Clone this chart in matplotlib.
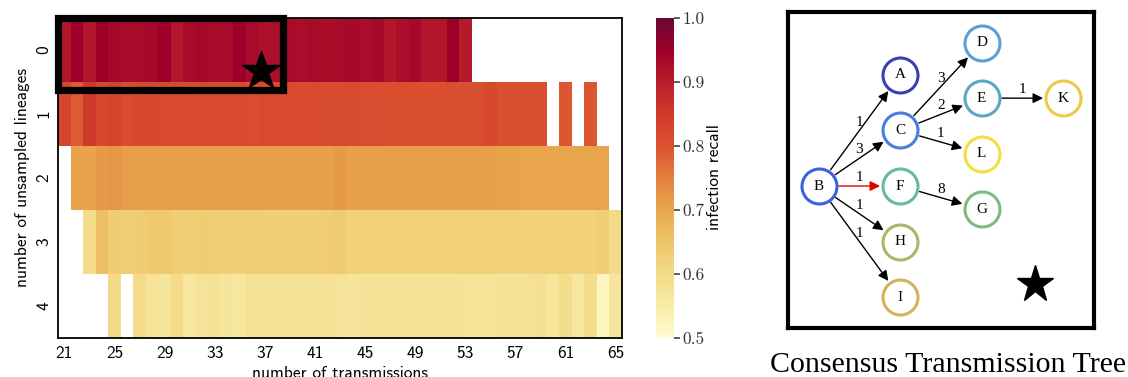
import numpy as np
import matplotlib
matplotlib.use("Agg")
import matplotlib.pyplot as plt
from matplotlib.colors import LinearSegmentedColormap

nan = np.nan

# heatmap: infection recall per (unsampled lineages, transmissions)
transmissions = list(range(21, 66))
unsampled = [0, 1, 2, 3, 4]

recall_u0 = [0.91, 0.95, 0.91, 0.95, 0.935, 0.93, 0.93, 0.932, 0.95, 0.91,
             0.93, 0.935, 0.93, 0.93, 0.95, 0.93, 0.92, 0.925, 0.93, 0.927,
             0.93, 0.927, 0.93, 0.935, 0.927, 0.935, 0.91, 0.925, 0.935, 0.912,
             0.912, 0.95, 0.905] + [nan] * 12
recall_u1 = [0.825, 0.79, 0.85, 0.82, 0.83, 0.81, 0.82, 0.82, 0.815, 0.815,
             0.812, 0.815, 0.815, 0.812, 0.815, 0.81, 0.815, 0.812, 0.815, 0.812,
             0.815, 0.812, 0.812, 0.812, 0.81, 0.81, 0.808, 0.808, 0.806, 0.806,
             0.806, 0.804, 0.804, 0.804, 0.82, 0.803, 0.803, 0.803, 0.803, nan,
             0.795, nan, 0.795, nan, nan]
recall_u2 = [nan, 0.705, 0.705, 0.715, 0.722, 0.712, 0.71, 0.71, 0.71, 0.71,
             0.71, 0.71, 0.71, 0.71, 0.71, 0.71, 0.71, 0.71, 0.71, 0.71,
             0.709, 0.708, 0.718, 0.71, 0.71, 0.71, 0.71, 0.71, 0.71, 0.71,
             0.71, 0.71, 0.71, 0.71, 0.71, 0.704, 0.704, 0.703, 0.703, 0.703,
             0.703, 0.703, 0.703, 0.703, nan]
recall_u3 = [nan, nan, 0.595, 0.66, 0.63, 0.628, 0.63, 0.64, 0.64, 0.628,
             0.628, 0.632, 0.628, 0.628, 0.625, 0.628, 0.626, 0.626, 0.626, 0.626,
             0.626, 0.63, 0.635, 0.622, 0.622, 0.622, 0.622, 0.622, 0.622, 0.622,
             0.622, 0.622, 0.622, 0.622, 0.622, 0.622, 0.622, 0.622, 0.622, 0.622,
             0.622, 0.622, 0.622, 0.628, 0.6]
recall_u4 = [nan, nan, nan, nan, 0.6, nan, 0.597, 0.575, 0.568, 0.595,
             0.565, 0.575, 0.58, 0.568, 0.565, 0.58, 0.578, 0.578, 0.578, 0.58,
             0.578, 0.578, 0.575, 0.572, 0.578, 0.578, 0.578, 0.578, 0.578, 0.578,
             0.578, 0.578, 0.575, 0.575, 0.575, 0.578, 0.58, 0.578, 0.585, 0.57,
             0.59, 0.565, 0.59, 0.52, 0.57]

# consensus tree
tree_edges = [("B", "A", 1), ("B", "C", 3), ("B", "F", 1), ("B", "H", 1), ("B", "I", 1),
              ("C", "D", 3), ("C", "E", 2), ("C", "L", 1), ("F", "G", 8), ("E", "K", 1)]
highlight_edge = ("B", "F")
node_colors = {"A": "#3a3fb3", "B": "#3a63e0", "C": "#4a7de0", "D": "#5c9fd6",
               "E": "#5aa8c8", "F": "#6ab89e", "G": "#7abb82", "H": "#a8b866",
               "I": "#d0b45c", "K": "#f0c848", "L": "#f0e040"}
# vertical slot of each node inside its rank (dot-like layout)
node_slot = {"B": 0, "A": -2, "C": -1, "F": 0, "H": 1, "I": 2,
             "D": -2.58, "E": -1.58, "L": -0.58, "G": 0.42, "K": -1.58}

cmap = LinearSegmentedColormap.from_list("recall", [
    (0.0, "#fffbcf"), (0.1, "#f8eca8"), (0.2, "#f3da86"), (0.3, "#eec468"),
    (0.4, "#e8a64c"), (0.5, "#e3803f"), (0.6, "#da5230"), (0.7, "#cf3a2a"),
    (0.8, "#b81d2b"), (0.9, "#9d0029"), (1.0, "#6b0736")])

W, H = 1128, 377
fig = plt.figure(figsize=(W / 100, H / 100), dpi=100)

sans = "cmss10"

# ---- heatmap ----
ax = fig.add_axes([58 / W, 1 - 337.5 / H, 564 / W, 320 / H])
grid = np.ma.masked_invalid(np.array([recall_u0, recall_u1, recall_u2, recall_u3, recall_u4]))
xe = np.arange(transmissions[0] - 0.5, transmissions[-1] + 1)
ye = np.arange(unsampled[0] - 0.5, unsampled[-1] + 1)
mesh = ax.pcolormesh(xe, ye, grid, cmap=cmap, vmin=0.5, vmax=1.0)
ax.set_xlim(xe[0], xe[-1])
ax.set_ylim(ye[-1], ye[0])
ax.set_xticks(transmissions[::4])
ax.set_xticklabels([str(t) for t in transmissions[::4]], fontfamily=sans, fontsize=12.5)
ax.set_yticks(unsampled)
ax.set_yticklabels([str(u) for u in unsampled], fontfamily=sans, fontsize=12.5,
                   rotation=90, va="center")
ax.tick_params(length=0, pad=6)
ax.tick_params(axis="y", pad=5)
for s in ax.spines.values():
    s.set_linewidth(1.3)
ax.set_ylabel("number of unsampled lineages", fontfamily=sans, fontsize=12.5)
ax.yaxis.set_label_coords(-0.05, 0.5)
ax.set_xlabel("number of transmissions", fontfamily=sans, fontsize=12.5)
ax.xaxis.set_label_coords(0.5, -0.088)

# selected setting
ax.add_patch(plt.Rectangle((20.5, -0.5), 17.95, 1.14, fill=False, lw=5.2,
                           ec="black", clip_on=False, zorder=5))
ax.plot([36.7], [0.33], marker="*", ms=29, color="black", clip_on=False, zorder=6)

# ---- colorbar ----
cax = fig.add_axes([656 / W, 1 - 337.5 / H, 18 / W, 320 / H])
cb = fig.colorbar(mesh, cax=cax)
cb.outline.set_visible(False)
cb.set_ticks([0.5, 0.6, 0.7, 0.8, 0.9, 1.0])
cb.set_ticklabels(["0.5", "0.6", "0.7", "0.8", "0.9", "1.0"])
for lab in cax.get_yticklabels():
    lab.set_fontfamily("cmr10")
    lab.set_fontsize(12.5)
    lab.set_color("#333333")
cax.tick_params(length=4, width=1.2, color="#444444", pad=2)
cb.set_label("infection recall", fontfamily=sans, fontsize=12.5, labelpad=2)

# ---- transmission tree ----
gx = fig.add_axes([788 / W, 1 - 328 / H, 306 / W, 316 / H])
rank = {"B": 0}
for parent, child, _ in tree_edges:
    rank[child] = rank[parent] + 1
col_px, row_px = 81.5, 55.6
gx.set_xlim(-30.7 / col_px, (306 - 30.7) / col_px)
gx.set_ylim((328 - 186) / row_px, (12 - 186) / row_px)
gx.set_xticks([])
gx.set_yticks([])
for s in gx.spines.values():
    s.set_linewidth(3)

serif = "Liberation Serif"
for parent, child, w in tree_edges:
    p = (rank[parent], node_slot[parent])
    c = (rank[child], node_slot[child])
    col = "#e00000" if (parent, child) == highlight_edge else "black"
    gx.annotate("", xy=c, xytext=p,
                arrowprops=dict(arrowstyle="-|>", color=col, lw=1.0,
                                shrinkA=14.5, shrinkB=14.5, mutation_scale=15))
    mid = ((p[0] + c[0]) / 2, (p[1] + c[1]) / 2)
    gx.annotate(str(w), xy=mid, xytext=(0, 6), textcoords="offset points",
                ha="center", va="center", fontfamily=serif, fontsize=11)

for n in node_colors:
    gx.scatter([rank[n]], [node_slot[n]], s=635, facecolor="white",
               edgecolor=node_colors[n], linewidth=2.2, zorder=3)
    gx.text(rank[n], node_slot[n], n, ha="center", va="center",
            fontfamily=serif, fontsize=11, zorder=4)

gx.plot([2.66], [1.77], marker="*", ms=27.8, color="black")

fig.text(948 / W, 1 - 371.7 / H, "Consensus Transmission Tree", ha="center",
         va="baseline", fontfamily=serif, fontsize=21.5)

fig.savefig("out.png", dpi=100)
